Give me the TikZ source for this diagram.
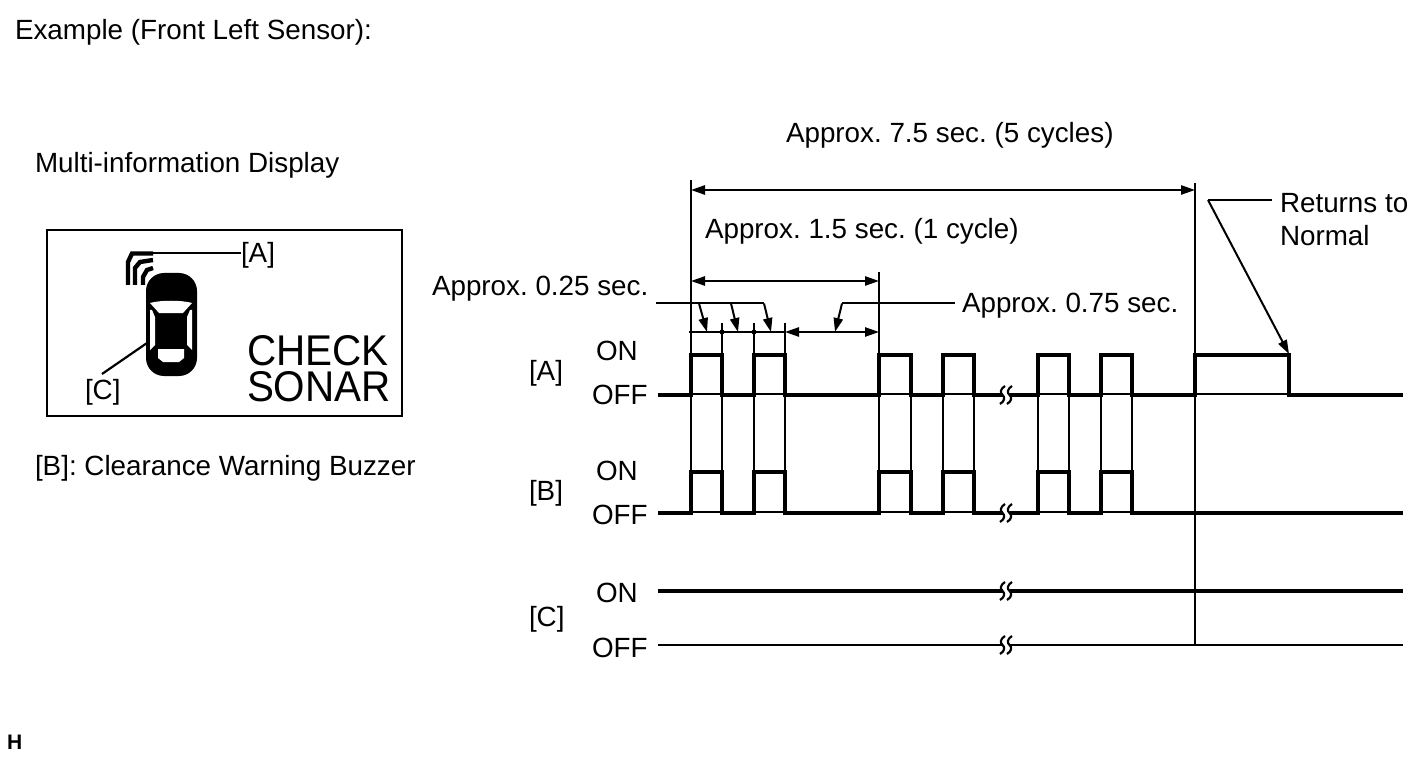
\documentclass[tikz,border=0pt]{standalone}
\usepackage{fontspec}
\setmainfont{Liberation Sans}
\usetikzlibrary{arrows.meta}
\frenchspacing
\newcommand{\txt}{\fontsize{13.9}{16.3}\selectfont}
\tikzset{
  x=0.5pt,y=-0.5pt,
  thinl/.style={line width=1pt},
  thickl/.style={line width=2pt,line join=miter,line cap=butt},
  lbl/.style={inner sep=0pt,outer sep=0pt,font=\txt,text=black},
  pix/.style={inner sep=0pt,outer sep=0pt,anchor=base west,font=\fontsize{21.5}{22}\selectfont},
  sigarc/.style={line width=2.2pt,line cap=butt},
  arr/.style={line width=1pt,-{Triangle[length=7pt,width=4.6pt]}},
  darr/.style={line width=1pt,{Triangle[length=7pt,width=4.6pt]}-{Triangle[length=7pt,width=4.6pt]}},
  brk/.style={line width=1.1pt},
}
\newcommand{\brkmark}[1]{%
  \fill[white] (1002.5,#1-3) rectangle (1009.5,#1+3);
  \foreach \dx in {0,7}{
    \draw[brk] (1005+\dx,#1-9) .. controls (1000+\dx,#1-6) and (1000+\dx,#1-2) .. (1002.5+\dx,#1) .. controls (1005+\dx,#1+2) and (1005+\dx,#1+6) .. (1000+\dx,#1+9);
  }
}
\begin{document}
\begin{tikzpicture}
\useasboundingbox (0,0) rectangle (1424,759);
% ---- texts
\node[lbl,anchor=base west] (title) at (15,40) {Example (Front Left Sensor):};
\node[lbl,anchor=base west] (mid) at (35,173) {Multi-information Display};
\node[lbl,anchor=base west] (bz) at (35,475) {[B]: Clearance Warning Buzzer};
\node[lbl,anchor=base west,font=\bfseries\fontsize{10.5}{12}\selectfont] (h) at (7,749) {H};
% ---- display
\node[draw,line width=1pt,outer sep=0pt,minimum width=177.5pt,minimum height=92.5pt,inner sep=0pt,anchor=north west] (disp) at (46.5,230.5) {};
\node[lbl,anchor=base west] (la) at (241,263) {[A]};
\node[lbl,anchor=base west] (lc) at (85,399) {[C]};
\node[pix] (check) at (247,365) {\scalebox{0.94}[1]{CHECK}};
\node[pix] (sonar) at (247,401) {\scalebox{0.94}[1]{SONAR}};
% car
\fill[black,rounded corners=9pt] (146,273) rectangle (197,376);
\fill[white] (150,303) .. controls (160,300) and (182,300) .. (192,303) -- (183,313) -- (159,313) -- cycle;
\fill[white] (158,349) -- (184,349) -- (184,358) -- (179,362) -- (163,362) -- (158,358) -- cycle;
\fill[white] (150,310) -- (152,310) -- (155,317) -- (155,345) -- (150,350) -- cycle;
\fill[white] (192,310) -- (190,310) -- (187,317) -- (187,345) -- (192,350) -- cycle;
% signal arcs
\coordinate (sigA) at (132,253);
\coordinate (carC) at (147,343);
\draw[sigarc] (128,285) -- (128,262) -- (132,253.5) -- (153,253.5);
\draw[sigarc] (135,285) -- (135,268) -- (140,262) -- (153,260);
\draw[sigarc] (143,285) -- (143,277) -- (147,270) -- (153,268);
\draw[line width=1.1pt] (sigA) -- (la.west |- sigA);
\draw[line width=1.1pt] (carC) -- (102,374);
% ---- thin guides
\draw[thinl] (691,180) -- (691,513);
\draw[thinl] (1195,183) -- (1195,645);
\draw[thinl] (879,272) -- (879,513);
\foreach \x in {722,754}{\draw[thinl] (\x,323) -- (\x,513);}
\draw[thinl] (785,323) -- (785,513);
\foreach \x in {911,943,974,1038,1069,1101,1132}{\draw[thinl] (\x,395) -- (\x,513);}
% ---- dimensions
\draw[darr] (691,190) -- (1195,190);
\draw[darr] (691,281) -- (879,281);
\draw[thinl] (689,332) -- (785,332);
\draw[darr] (785,332) -- (879,332);
\fill (722,332) circle (2.5);
\fill (754,332) circle (2.5);
% leaders
\draw[thinl] (656,303.5) -- (764,303.5);
\draw[arr] (699,303.5) -- (707,332);
\draw[arr] (731,303.5) -- (738,332);
\draw[arr] (764,303.5) -- (771,332);
\draw[thinl] (955,303.5) -- (842,303.5);
\draw[arr] (842,303.5) -- (835,332);
\draw[thinl] (1272,200) -- (1208,200);
\draw[arr] (1208,200) -- (1289,354);
\node[lbl,anchor=base west] (t75) at (786,143) {Approx. 7.5 sec. (5 cycles)};
\node[lbl,anchor=base west] (t15) at (705,239) {Approx. 1.5 sec. (1 cycle)};
\node[lbl,anchor=base west] (t025) at (432,296) {Approx. 0.25 sec.};
\node[lbl,anchor=base west] (t075) at (962,313) {Approx. 0.75 sec.};
\node[lbl,anchor=base west] (ret) at (1280,213) {Returns to};
\node[lbl,anchor=base west] (nor) at (1280,246) {Normal};
% ---- signal labels
\node[lbl,anchor=base west] (aL) at (529,380) {[A]};
\node[lbl,anchor=base west] (aOn) at (596,360.5) {ON};
\node[lbl,anchor=base west] (aOff) at (592,404) {OFF};
\node[lbl,anchor=base west] (bL) at (529,500) {[B]};
\node[lbl,anchor=base west] (bOn) at (596,480.5) {ON};
\node[lbl,anchor=base west] (bOff) at (592,524) {OFF};
\node[lbl,anchor=base west] (cL) at (529,626) {[C]};
\node[lbl,anchor=base west] (cOn) at (596,602) {ON};
\node[lbl,anchor=base west] (cOff) at (592,657) {OFF};
% ---- waveforms
\draw[thinl] (658,393.5) -- (1289,393.5);
\draw[thinl] (658,512) -- (1140,512);
\draw[thickl] (658,395) -- (691,395) -- (691,355) -- (722,355) -- (722,395) -- (754,395) -- (754,355) -- (785,355) -- (785,395) -- (879,395) -- (879,355) -- (911,355) -- (911,395) -- (943,395) -- (943,355) -- (974,355) -- (974,395) -- (1038,395) -- (1038,355) -- (1069,355) -- (1069,395) -- (1101,395) -- (1101,355) -- (1132,355) -- (1132,395) -- (1195,395) -- (1195,355) -- (1289,355) -- (1289,395) -- (1403,395);
\draw[thickl] (658,513) -- (691,513) -- (691,472) -- (722,472) -- (722,513) -- (754,513) -- (754,472) -- (785,472) -- (785,513) -- (879,513) -- (879,472) -- (911,472) -- (911,513) -- (943,513) -- (943,472) -- (974,472) -- (974,513) -- (1038,513) -- (1038,472) -- (1069,472) -- (1069,513) -- (1101,513) -- (1101,472) -- (1132,472) -- (1132,513) -- (1403,513);
\draw[thickl] (658,591) -- (1403,591);
\draw[thinl] (658,645) -- (1403,645);
\brkmark{395}\brkmark{513}\brkmark{591}\brkmark{645}
\end{tikzpicture}
\end{document}
